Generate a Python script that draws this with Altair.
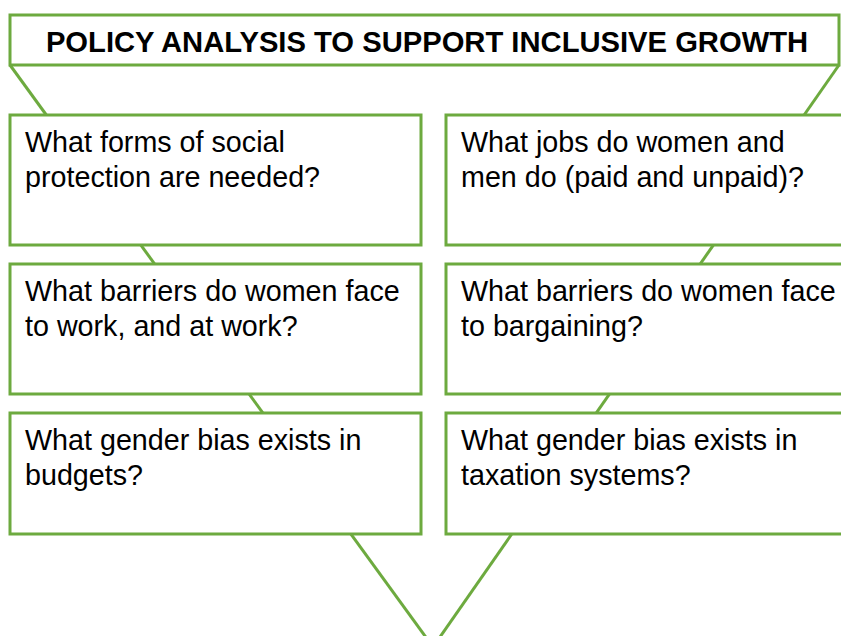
import altair as alt
import pandas as pd

# ---- content ----
title = "POLICY ANALYSIS TO SUPPORT INCLUSIVE GROWTH"
questions = [
    ["What forms of social", "protection are needed?"],
    ["What jobs do women and", "men do (paid and unpaid)?"],
    ["What barriers do women face", "to work, and at work?"],
    ["What barriers do women face", "to bargaining?"],
    ["What gender bias exists in", "budgets?"],
    ["What gender bias exists in", "taxation systems?"],
]
q_col = [0, 1, 0, 1, 0, 1]
q_row = [0, 0, 1, 1, 2, 2]

# ---- layout (page pixels) ----
GREEN = "#6DAA3F"
COL_X0 = [10, 446]
COL_X1 = [421, 856]
ROW_Y0 = [115, 264, 413]
ROW_Y1 = [245, 394, 534]
TITLE_BOX = (10, 15, 839, 65)
APEX = (433, 647)
TEXT_DX = 15
BASE_DY = 37
LINE_H = 35
FS = 28.7
TITLE_FS = 29.2
FONT = "Liberation Sans"

W, H = 833, 628  # svg size; page margin 8px on every side

boxes = pd.DataFrame({
    "x": [COL_X0[c] for c in q_col],
    "x2": [COL_X1[c] for c in q_col],
    "y": [ROW_Y0[r] for r in q_row],
    "y2": [ROW_Y1[r] for r in q_row],
})

text_rows = []
for lines, c, r in zip(questions, q_col, q_row):
    for i, line in enumerate(lines):
        text_rows.append({"x": COL_X0[c] + TEXT_DX, "y": ROW_Y0[r] + BASE_DY + i * LINE_H, "t": line})
texts = pd.DataFrame(text_rows)

funnel = pd.DataFrame({
    "x": [TITLE_BOX[0], TITLE_BOX[2]],
    "y": [TITLE_BOX[3], TITLE_BOX[3]],
    "x2": [APEX[0], APEX[0]],
    "y2": [APEX[1], APEX[1]],
})

title_box = pd.DataFrame({"x": [TITLE_BOX[0]], "y": [TITLE_BOX[1]], "x2": [TITLE_BOX[2]], "y2": [TITLE_BOX[3]]})
title_df = pd.DataFrame({"x": [(10 + 844) / 2], "y": [52], "t": [title]})

xs = alt.Scale(domain=[8, 8 + W], nice=False, zero=False)
ys = alt.Scale(domain=[8, 8 + H], nice=False, zero=False, reverse=True)


def X(f="x"):
    return alt.X(f + ":Q", scale=xs, axis=None)


def Y(f="y"):
    return alt.Y(f + ":Q", scale=ys, axis=None)


lines_layer = alt.Chart(funnel).mark_rule(color=GREEN, strokeWidth=3).encode(
    x=X(), y=Y(), x2="x2:Q", y2="y2:Q"
)
title_rect = alt.Chart(title_box).mark_rect(fill="white", stroke=GREEN, strokeWidth=3).encode(
    x=X(), y=Y(), x2="x2:Q", y2="y2:Q"
)
box_layer = alt.Chart(boxes).mark_rect(fill="white", stroke=GREEN, strokeWidth=3).encode(
    x=X(), y=Y(), x2="x2:Q", y2="y2:Q"
)
text_layer = alt.Chart(texts).mark_text(
    align="left", baseline="alphabetic", font=FONT, fontSize=FS, color="#000000"
).encode(x=X(), y=Y(), text="t:N")
title_layer = alt.Chart(title_df).mark_text(
    align="center", baseline="alphabetic", font=FONT, fontSize=TITLE_FS, fontWeight="bold", color="#000000"
).encode(x=X(), y=Y(), text="t:N")

chart = alt.layer(lines_layer, title_rect, box_layer, text_layer, title_layer).properties(
    width=W, height=H, padding=0, autosize=alt.AutoSizeParams(type="none"), background="white"
).configure_view(stroke=None)

chart.save("out.html", embed_options={"renderer": "svg", "actions": False})
